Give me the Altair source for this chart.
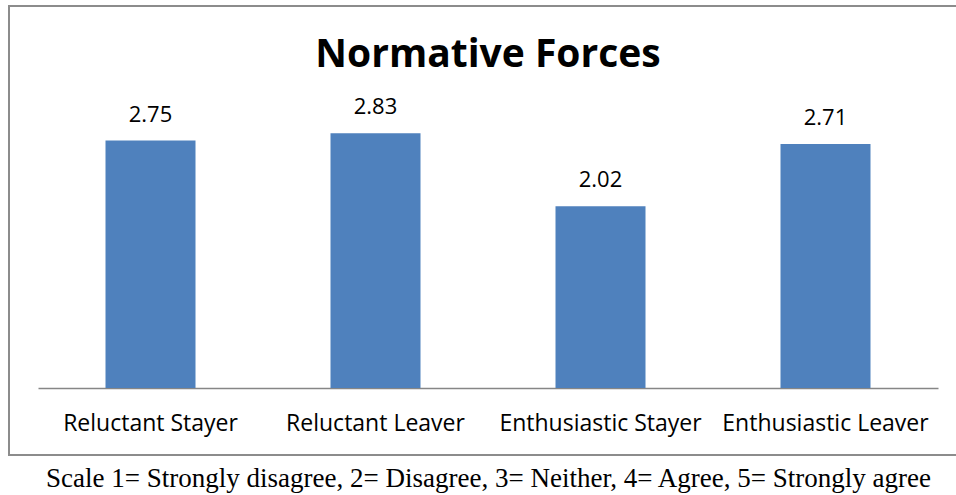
import altair as alt
import pandas as pd

# Mean agreement scores for the normative-forces items, by group
groups = ["Reluctant Stayer", "Reluctant Leaver", "Enthusiastic Stayer", "Enthusiastic Leaver"]
scores = [2.75, 2.83, 2.02, 2.71]

df = pd.DataFrame({"group": groups, "score": scores})

BAR_BLUE = "#4F81BD"
FRAME_GREY = "#8C8C8C"
SANS = "Open Sans"

x_enc = alt.X(
    "group:N",
    sort=groups,
    scale=alt.Scale(paddingInner=0.6, paddingOuter=0.3),
    axis=alt.Axis(
        title="Scale 1= Strongly disagree, 2= Disagree, 3= Neither, 4= Agree, 5= Strongly agree",
        titleFont="Liberation Serif",
        titleFontSize=27,
        titleFontWeight="normal",
        titleColor="#000000",
        titleBaseline="alphabetic",
        titlePadding=51,
        labelFont=SANS,
        labelFontSize=23,
        labelColor="#000000",
        labelAngle=0,
        labelBaseline="alphabetic",
        labelPadding=42,
        labelLimit=300,
        ticks=False,
        domainColor="#868686",
        domainWidth=1.5,
    ),
)
y_enc = alt.Y(
    "score:Q",
    scale=alt.Scale(domain=[0, 3.5], nice=False),
    axis=None,
)

bars = alt.Chart(df).mark_bar(color=BAR_BLUE).encode(x=x_enc, y=y_enc)

labels = alt.Chart(df).mark_text(
    font=SANS, fontSize=22, color="#000000", baseline="alphabetic", dy=-19
).encode(x=alt.X("group:N", sort=groups), y="score:Q", text=alt.Text("score:Q", format=".2f"))

# Outer frame around the chart area (runs off the right edge)
frame = alt.Chart(df).mark_rect(
    fill=None, stroke=FRAME_GREY, strokeWidth=2
).encode(
    x=alt.value(-29), x2=alt.value(930), y=alt.value(-67), y2=alt.value(382)
)

chart = alt.layer(frame, bars, labels).properties(
    width=900,
    height=315,
    title=alt.TitleParams(
        "Normative Forces",
        font=SANS,
        fontSize=39,
        fontWeight="bold",
        color="#000000",
        anchor="middle",
        baseline="alphabetic",
        offset=-101,
    ),
    padding={"left": 38, "top": 73, "right": 18, "bottom": 107},
    autosize=alt.AutoSizeParams(type="none"),
    background="white",
).configure_view(stroke=None)

chart.save("out.html", embed_options={"renderer": "svg", "actions": False})
